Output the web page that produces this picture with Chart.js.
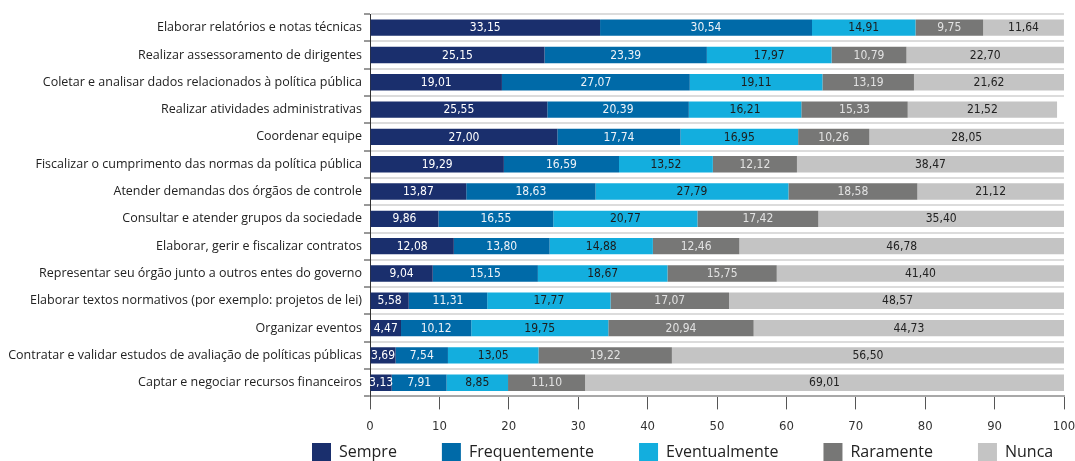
<!DOCTYPE html>
<html>
<head>
<meta charset="utf-8">
<script src="https://cdn.jsdelivr.net/npm/chart.js@4"></script>
<style>
    body { margin: 0; background: #fff; }
    #wrap { width: 1075px; height: 461px; }
</style>
</head>
<body>
<div id="wrap"><canvas id="activityChart" width="1075" height="461"></canvas></div>
<script>
const categories = [
    'Elaborar relatórios e notas técnicas',
    'Realizar assessoramento de dirigentes',
    'Coletar e analisar dados relacionados à política pública',
    'Realizar atividades administrativas',
    'Coordenar equipe',
    'Fiscalizar o cumprimento das normas da política pública',
    'Atender demandas dos órgãos de controle',
    'Consultar e atender grupos da sociedade',
    'Elaborar, gerir e fiscalizar contratos',
    'Representar seu órgão junto a outros entes do governo',
    'Elaborar textos normativos (por exemplo: projetos de lei)',
    'Organizar eventos',
    'Contratar e validar estudos de avaliação de políticas públicas',
    'Captar e negociar recursos financeiros'
];

const sempre = [33.15, 25.15, 19.01, 25.55, 27.00, 19.29, 13.87, 9.86, 12.08, 9.04, 5.58, 4.47, 3.69, 3.13];
const frequentemente = [30.54, 23.39, 27.07, 20.39, 17.74, 16.59, 18.63, 16.55, 13.80, 15.15, 11.31, 10.12, 7.54, 7.91];
const eventualmente = [14.91, 17.97, 19.11, 16.21, 16.95, 13.52, 27.79, 20.77, 14.88, 18.67, 17.77, 19.75, 13.05, 8.85];
const raramente = [9.75, 10.79, 13.19, 15.33, 10.26, 12.12, 18.58, 17.42, 12.46, 15.75, 17.07, 20.94, 19.22, 11.10];
const nunca = [11.64, 22.70, 21.62, 21.52, 28.05, 38.47, 21.12, 35.40, 46.78, 41.40, 48.57, 44.73, 56.50, 69.01];

const xTicks = [0, 10, 20, 30, 40, 50, 60, 70, 80, 90, 100];

const series = [
    { label: 'Sempre', data: sempre, color: '#1a2f6d', text: '#ffffff' },
    { label: 'Frequentemente', data: frequentemente, color: '#006aa8', text: '#eef3f8' },
    { label: 'Eventualmente', data: eventualmente, color: '#13aede', text: '#1c1c1c' },
    { label: 'Raramente', data: raramente, color: '#777776', text: '#e2e2e2' },
    { label: 'Nunca', data: nunca, color: '#c4c4c4', text: '#222222' }
];

const narrowFont = "'Liberation Sans Narrow', 'DejaVu Sans Condensed', 'Roboto Condensed', sans-serif";

// value labels in the middle of each segment
const segmentLabels = {
    id: 'segmentLabels',
    afterDatasetsDraw(chart) {
        const ctx = chart.ctx;
        ctx.save();
        ctx.font = `12px ${narrowFont}`;
        ctx.textAlign = 'center';
        ctx.textBaseline = 'middle';
        chart.data.datasets.forEach((ds, i) => {
            chart.getDatasetMeta(i).data.forEach((bar, j) => {
                ctx.fillStyle = series[i].text;
                ctx.fillText(ds.data[j].toFixed(2).replace('.', ','), (bar.x + bar.base) / 2, bar.y + 0.5);
            });
        });
        ctx.restore();
    }
};

// move the legend row to where it sits in the original
const legendPlace = {
    id: 'legendPlace',
    afterLayout(chart) {
        const lg = chart.legend;
        const pad = lg.options.labels.padding;
        lg.left = 312 - pad;
        lg.right = chart.width + 200;
        lg.top = 443 - pad;
    }
};

new Chart(document.getElementById('activityChart'), {
    type: 'bar',
    data: {
        labels: categories,
        datasets: series.map(s => ({
            label: s.label,
            data: s.data,
            backgroundColor: s.color,
            borderWidth: 0,
            barPercentage: 0.6,
            categoryPercentage: 1
        }))
    },
    options: {
        indexAxis: 'y',
        responsive: false,
        animation: false,
        layout: { padding: { top: 14, right: 11, left: 6, bottom: 0 } },
        plugins: {
            tooltip: { enabled: false },
            legend: {
                position: 'bottom',
                align: 'start',
                maxHeight: 18,
                labels: {
                    boxWidth: 19,
                    boxHeight: 19,
                    padding: 45,
                    color: '#222',
                    font: { family: "'Open Sans', sans-serif", size: 16 }
                }
            }
        },
        scales: {
            x: {
                stacked: true,
                min: 0,
                max: 100,
                afterBuildTicks: scale => { scale.ticks = xTicks.map(v => ({ value: v })); },
                afterFit: scale => { scale.paddingLeft = 0; scale.paddingRight = 0; },
                grid: { drawOnChartArea: false, tickLength: 13, tickColor: '#555', tickWidth: 1 },
                border: { color: '#a8a8a8', width: 2 },
                ticks: { color: '#333', padding: 9, font: { family: narrowFont, size: 13 } }
            },
            y: {
                stacked: true,
                afterFit: scale => { scale.width = 364; },
                grid: { color: '#dcdcdc', lineWidth: 2, tickColor: '#333', tickWidth: 1, tickLength: 6 },
                border: { color: '#333', width: 1 },
                ticks: { color: '#222', padding: 2, font: { family: "'Open Sans', sans-serif", size: 12.5 } }
            }
        }
    },
    plugins: [segmentLabels, legendPlace]
});
</script>
</body>
</html>
